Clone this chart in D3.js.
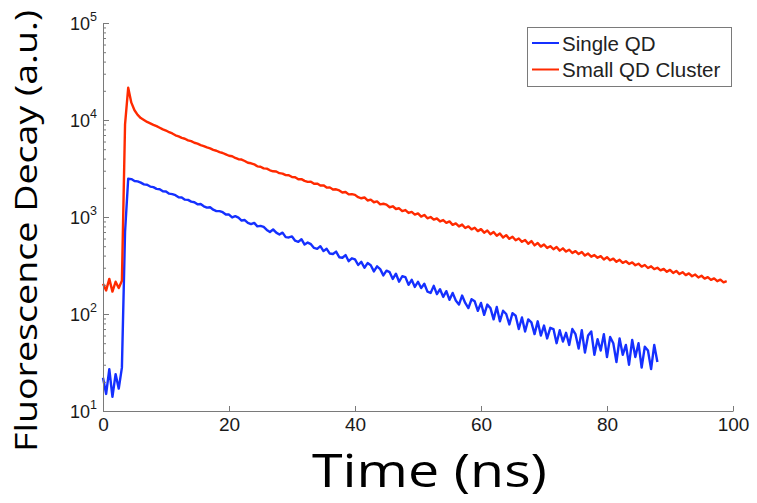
<!DOCTYPE html>
<html><head><meta charset="utf-8">
<script src="https://cdn.jsdelivr.net/npm/d3@7"></script>
<style>body{margin:0;background:#fff}svg{display:block}</style>
</head><body><svg id="chart" width="757" height="503"></svg>
<script>
// ---- data ----
const seriesNames = ["Single QD", "Small QD Cluster"];
const seriesColors = ["#1530ff", "#ff2a00"];
const timeStart = 0, timeStep = 0.5; // ns, sampling grid of the traces
const singleQD = [
22, 15, 27, 14, 24, 17, 28, 700, 2480, 2460,
2350, 2330, 2260, 2170, 2150, 2060, 2030, 1950, 1930, 1840,
1830, 1740, 1720, 1680, 1600, 1590, 1510, 1500, 1440, 1420,
1350, 1360, 1290, 1250, 1260, 1190, 1150, 1150, 1120, 1060,
1060, 990, 1020, 985, 920, 930, 870, 845, 870, 800,
810, 790, 735, 700, 745, 690, 660, 690, 620, 615,
630, 570, 555, 590, 520, 545, 525, 480, 470, 500,
445, 470, 420, 415, 440, 385, 380, 405, 350, 375,
365, 320, 345, 300, 335, 318, 275, 310, 290, 250,
280, 270, 230, 260, 215, 245, 240, 200, 225, 190,
215, 185, 205, 170, 165, 195, 160, 180, 150, 172,
140, 165, 138, 125, 155, 130, 115, 142, 135, 108,
130, 98, 125, 115, 88, 118, 84, 108, 100, 78,
102, 96, 70, 92, 66, 88, 82, 62, 84, 60,
76, 56, 72, 70, 50, 68, 52, 64, 48, 70,
62, 44, 68, 40, 60, 66, 38, 55, 42, 62,
36, 58, 50, 32, 56, 38, 48, 30, 54, 36,
50, 28, 46, 42, 27, 48, 32
];
const smallCluster = [
205, 175, 230, 170, 215, 185, 220, 9000, 21500, 15100,
12600, 11300, 10470, 10000, 9550, 9230, 8910, 8650, 8330, 8000,
7790, 7480, 7260, 6960, 6780, 6540, 6410, 6170, 6050, 5830,
5700, 5510, 5380, 5210, 5100, 4920, 4820, 4660, 4570, 4420,
4280, 4230, 4060, 3940, 3910, 3780, 3620, 3580, 3490, 3330,
3300, 3170, 3150, 3030, 2960, 2950, 2830, 2800, 2700, 2690,
2580, 2570, 2450, 2460, 2360, 2300, 2310, 2200, 2210, 2110,
2120, 2010, 2020, 1920, 1930, 1880, 1790, 1810, 1710, 1720,
1690, 1600, 1560, 1590, 1480, 1510, 1420, 1450, 1350, 1370,
1340, 1260, 1290, 1210, 1230, 1150, 1180, 1100, 1130, 1060,
1090, 1010, 1050, 970, 1000, 940, 965, 900, 930, 870,
900, 830, 860, 800, 835, 770, 800, 745, 775, 715,
750, 690, 725, 665, 700, 640, 675, 615, 650, 595,
625, 575, 600, 555, 580, 530, 565, 510, 540, 495,
520, 480, 500, 465, 490, 450, 475, 440, 460, 425,
445, 415, 435, 400, 420, 390, 405, 380, 395, 365,
385, 358, 372, 345, 362, 337, 350, 328, 340, 318,
330, 308, 320, 298, 310, 290, 300, 282, 292, 272,
285, 265, 278, 258, 270, 252, 262, 245, 255, 238,
248, 232, 240, 225, 233, 218, 226, 212, 218
];
const xTicks = [0, 20, 40, 60, 80, 100];
const yTickExponents = [1, 2, 3, 4, 5];
const xLabel = "Time (ns)";
const yLabel = "Fluorescence Decay (a.u.)";

// ---- chart ----
const svg = d3.select("#chart");
svg.append("rect").attr("width", 757).attr("height", 503).attr("fill", "#fff");

const x = d3.scaleLinear().domain([0, 100]).range([103, 733]);
const y = d3.scaleLog().domain([10, 1e5]).range([411, 23]);
const axisColor = "#7a7a7a";

const toPoints = arr => arr.map((v, i) => ({t: timeStart + i * timeStep, v}));
const line = d3.line().x(d => x(d.t)).y(d => y(d.v));

// curves
[singleQD, smallCluster].forEach((arr, k) => {
  svg.append("path").datum(toPoints(arr))
    .attr("fill", "none").attr("stroke", seriesColors[k])
    .attr("stroke-width", 2.4).attr("stroke-linejoin", "round")
    .attr("d", line);
});

// x axis
const gx = svg.append("g").attr("transform", `translate(0,${y(10)})`)
  .call(d3.axisBottom(x).tickValues(xTicks).tickSizeInner(-5).tickSizeOuter(0).tickPadding(7));
gx.select(".domain").attr("stroke", axisColor);
gx.selectAll(".tick line").attr("stroke", axisColor);
gx.selectAll(".tick text").attr("font-family", "Liberation Sans, Arial, sans-serif")
  .attr("font-size", 19).attr("fill", "#1a1a1a");

// y axis minor ticks
const minors = [];
yTickExponents.slice(0, -1).forEach(e => { for (let m = 2; m <= 9; m++) minors.push(m * Math.pow(10, e)); });
const gym = svg.append("g").attr("transform", `translate(${x(0)},0)`)
  .call(d3.axisLeft(y).tickValues(minors).tickSizeInner(-3).tickSizeOuter(0).tickFormat(""));
gym.select(".domain").remove();
gym.selectAll(".tick line").attr("stroke", axisColor);

// y axis major
const majors = yTickExponents.map(e => Math.pow(10, e));
const gy = svg.append("g").attr("transform", `translate(${x(0)},0)`)
  .call(d3.axisLeft(y).tickValues(majors).tickSizeInner(-6).tickSizeOuter(0).tickFormat(""));
gy.select(".domain").attr("stroke", axisColor);
gy.selectAll(".tick line").attr("stroke", axisColor);
const ylab = svg.append("g").selectAll("text").data(yTickExponents).join("text")
  .attr("x", 97).attr("y", e => y(Math.pow(10, e)) + 7)
  .attr("text-anchor", "end")
  .attr("font-family", "Liberation Sans, Arial, sans-serif")
  .attr("font-size", 18).attr("fill", "#1a1a1a");
ylab.append("tspan").text("10");
ylab.append("tspan").attr("dy", -9).attr("font-size", 12.5).text(e => e);

// axis titles
svg.append("text").attr("x", 429.5).attr("y", 487).attr("text-anchor", "middle")
  .attr("font-family", "Open Sans, sans-serif").attr("font-size", 45)
  .attr("textLength", 235).attr("lengthAdjust", "spacingAndGlyphs")
  .attr("fill", "#000").text(xLabel);
svg.append("text").attr("transform", "translate(37,231) rotate(-90)")
  .attr("text-anchor", "middle")
  .attr("font-family", "Open Sans, sans-serif").attr("font-size", 31)
  .attr("textLength", 442).attr("lengthAdjust", "spacingAndGlyphs")
  .attr("fill", "#000").text(yLabel);

// legend
const lg = svg.append("g");
lg.append("rect").attr("x", 527.5).attr("y", 27.5).attr("width", 204).attr("height", 59)
  .attr("fill", "#fff").attr("stroke", axisColor);
seriesNames.forEach((name, k) => {
  const cy = 43 + k * 26.5;
  lg.append("line").attr("x1", 532).attr("x2", 559).attr("y1", cy).attr("y2", cy)
    .attr("stroke", seriesColors[k]).attr("stroke-width", 2);
  lg.append("text").attr("x", 562).attr("y", cy + 7.5)
    .attr("font-family", "Liberation Sans, Arial, sans-serif").attr("font-size", 20.5)
    .attr("fill", "#222").text(name);
});
</script></body></html>
